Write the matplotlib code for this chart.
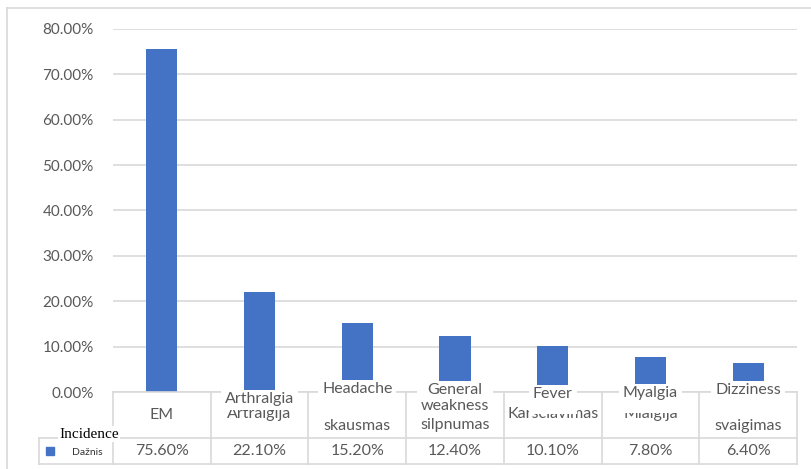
import matplotlib.pyplot as plt
import matplotlib.transforms as mtransforms
from matplotlib.patches import Rectangle

# data
labels_lt = ["EM", "Artralgija", "skausmas", "silpnumas", "Karščiavimas", "Mialgija", "svaigimas"]
labels_en = ["", "Arthralgia", "Headache", "General\nweakness", "Fever", "Myalgia", "Dizziness"]
values = [75.6, 22.1, 15.2, 12.4, 10.1, 7.8, 6.4]
yticks = [0, 10, 20, 30, 40, 50, 60, 70, 80]
series_lt = "Dažnis"
series_en = "Incidence"

W, H = 811, 469
grey = "#d9d9d9"
txt = "#595959"
blue = "#4472C4"
plt.rcParams['font.family'] = ['Lato', 'DejaVu Sans']

fig = plt.figure(figsize=(W / 100, H / 100), dpi=100)
x0, x1, ytop, ybot = 113, 797, 29, 392
ax = fig.add_axes([x0 / W, 1 - ybot / H, (x1 - x0) / W, (ybot - ytop) / H])
n = len(values)
ax.set_xlim(-0.5, n - 0.5)
ax.set_ylim(0, 80)
ax.bar(range(n), values, width=0.32, color=blue, zorder=2)
for s in ax.spines.values():
    s.set_visible(False)
ax.set_xticks([])
ax.set_yticks(yticks)
ax.set_yticklabels(["%.2f%%" % v for v in yticks], color=txt, fontsize=11)
ax.tick_params(axis='y', length=0, pad=14)
ax.yaxis.grid(True, color=grey, lw=1.2)
ax.set_axisbelow(True)

def py(y):
    return 1 - y / H

def px(x):
    return x / W

tx = mtransforms.blended_transform_factory(ax.transData, fig.transFigure)
tf = fig.transFigure

# outer frame
fig.add_artist(plt.Line2D([px(7), px(7)], [py(8), 0], color=grey, lw=1.2, transform=tf))
fig.add_artist(plt.Line2D([px(7), 1], [py(8), py(8)], color=grey, lw=1.2, transform=tf))

# data table lines
r0, r1, r2 = 392, 438, 464
cols = [x0 + i * (x1 - x0) / n for i in range(n + 1)]
def hline(xa, xb, y):
    fig.add_artist(plt.Line2D([px(xa), px(xb)], [py(y), py(y)], color=grey, lw=1.2, transform=tf, zorder=1))
hline(x0, x1, r0)
hline(39, x1, r1)
hline(39, x1, r2)
fig.add_artist(plt.Line2D([px(39), px(39)], [py(r1), py(r2)], color=grey, lw=1.2, transform=tf, zorder=1))
for c in cols:
    fig.add_artist(plt.Line2D([px(c), px(c)], [py(r0), py(r2)], color=grey, lw=1.2, transform=tf, zorder=1))

# Lithuanian header labels
lt_y = [415, 414, 426, 425, 414, 414, 426]
for i, (lab, y) in enumerate(zip(labels_lt, lt_y)):
    fig.text(i, py(y), lab, transform=tx, ha='center', va='center', color=txt, fontsize=11.5, zorder=3)

# English labels overlaid, each on a white patch
en_y = [0, 399, 389, 398, 394, 393, 390]
cover = [0, 410, 0, 0, 414, 413, 0]
en_texts = []
for i, (lab, y) in enumerate(zip(labels_en, en_y)):
    if lab:
        t = fig.text(i, py(y), lab, transform=tx, ha='center', va='center', color=txt, fontsize=11.5,
                     linespacing=1.2, zorder=5)
        en_texts.append((i, t))

fig.canvas.draw()
r = fig.canvas.get_renderer()
for i, t in en_texts:
    bb = t.get_window_extent(r)
    top = H - bb.y1 - 2
    bottom = max(H - bb.y0 + 1, cover[i])
    fig.add_artist(Rectangle((px(bb.x0 - 4), py(bottom)), (bb.width + 8) / W, (bottom - top) / H,
                             facecolor='white', edgecolor='none', transform=tf, zorder=4))

# values row
for i, v in enumerate(values):
    fig.text(i, py(451), "%.2f%%" % v, transform=tx, ha='center', va='center', color=txt, fontsize=11.5, zorder=3)

# legend cell
fig.add_artist(Rectangle((px(46), py(455)), 8 / W, 8 / H, color=blue, transform=tf))
fig.text(px(87), py(452), series_lt, ha='center', va='center', fontsize=7.5, color='#333333')
fig.text(px(89), py(434), series_en, ha='center', va='center', fontsize=11, color='black',
         family='Liberation Serif', zorder=4,
         bbox=dict(facecolor='white', edgecolor='none', pad=1))

fig.savefig("out.png", dpi=100)
